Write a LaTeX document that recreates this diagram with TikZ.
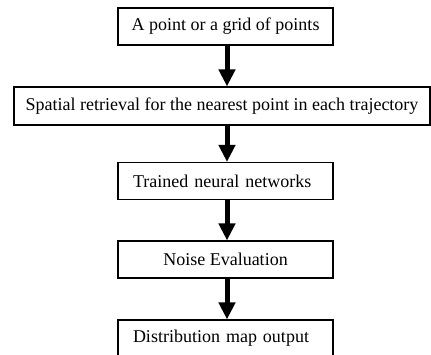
\documentclass[tikz,border=0pt]{standalone}
\usepackage{fontspec}
\setmainfont{Liberation Serif}
\usepackage{tikz}
\usetikzlibrary{arrows.meta, positioning, calc}

\tikzset{
  stepbox/.style={draw, line width=1.1pt, minimum width=215pt, minimum height=37pt,
    inner sep=0pt, font=\fontsize{18}{20}\selectfont},
  leftbox/.style={stepbox, text width=185pt, inner xsep=15pt, align=left},
  flow/.style={line width=5pt, -{Triangle[width=16pt, length=17pt]}}
}

\begin{document}
\begin{tikzpicture}[x=1pt, y=1pt]
  \useasboundingbox (0,0) rectangle (431,-355);
  \clip (0,0) rectangle (431,-355);
  % boxes
  \node[stepbox] (pts) at (225.5, -26.5) {A point or a grid of points};
  \node[stepbox, minimum width=416pt, minimum height=38pt] (ret) at (222, -106) {Spatial retrieval for the nearest point in each trajectory};
  \node[leftbox] (nn) at (225.5, -181) {Trained neural networks};
  \node[stepbox] (noise) at (225.5, -259.5) {Noise Evaluation};
  \node[leftbox] (map) at (225.5, -338.5) {Distribution map output};
  % arrows
  \coordinate (ax) at (227, 0);
  \draw[flow] (pts.south -| ax) -- (ret.north -| ax);
  \draw[flow] (ret.south -| ax) -- (nn.north -| ax);
  \draw[flow] (nn.south -| ax) -- (noise.north -| ax);
  \draw[flow] (noise.south -| ax) -- (map.north -| ax);
\end{tikzpicture}
\end{document}
